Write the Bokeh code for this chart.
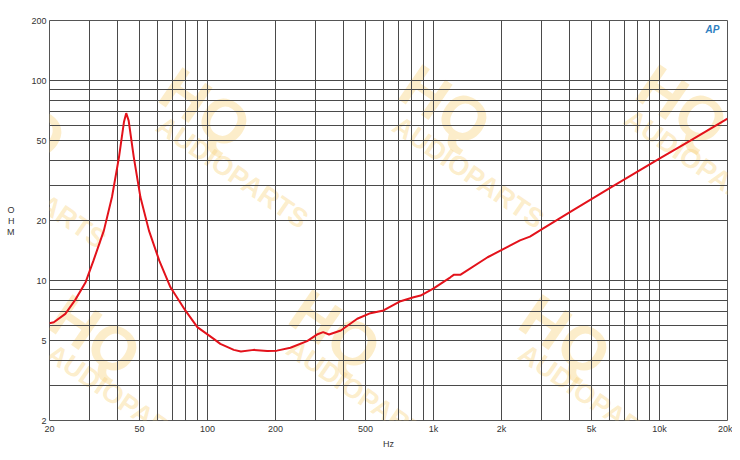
from bokeh.plotting import figure
from bokeh.models import FixedTicker, Label
from bokeh.embed import file_html
from bokeh.resources import INLINE

# ---- data ----
freq_hz = [20, 20.9, 23.5, 26.0, 28.9, 31.3, 34.8, 37.8, 40.6, 42.7, 43.7, 44.8,
           47.2, 50.5, 55.1, 61.2, 68.6, 79.8, 90.2, 106.6, 114, 130.8, 140.6,
           160.3, 183.7, 203, 232.8, 276, 305, 325, 345, 389, 460, 526, 601, 715,
           817, 877, 1002, 1188, 1229, 1314, 1736, 2415, 2672, 3048, 4117, 6048,
           9946, 13700, 20000]
impedance_ohm = [6.13, 6.2, 6.83, 8.02, 9.83, 12.6, 17.8, 26.2, 41.5, 62.1, 68.8, 63.2,
                 41.5, 26.2, 17.8, 12.6, 9.27, 7.1, 5.86, 5.12, 4.83, 4.51, 4.43,
                 4.51, 4.45, 4.47, 4.62, 4.99, 5.38, 5.53, 5.38, 5.64, 6.45, 6.88, 7.1, 7.9,
                 8.27, 8.43, 9.15, 10.4, 10.7, 10.7, 13.1, 15.9, 16.6, 18.2, 22.4, 29.1,
                 40.7, 50.2, 64.7]

x_major = [20, 50, 100, 200, 500, 1000, 2000, 5000, 10000, 20000]
x_major_labels = ["20", "50", "100", "200", "500", "1k", "2k", "5k", "10k", "20k"]
y_major = [2, 5, 10, 20, 50, 100, 200]
y_major_labels = ["2", "5", "10", "20", "50", "100", "200"]
x_grid = [20, 30, 40, 50, 60, 70, 80, 90, 100, 200, 300, 400, 500, 600, 700, 800, 900,
          1000, 2000, 3000, 4000, 5000, 6000, 7000, 8000, 9000, 10000, 20000]
y_grid = [2, 3, 4, 5, 6, 7, 8, 9, 10, 20, 30, 40, 50, 60, 70, 80, 90, 100, 200]

FONT = "Liberation Sans"
LEFT, TOP = 49, 20

p = figure(width=732, height=452, x_axis_type="log", y_axis_type="log",
           x_range=(20, 20000), y_range=(2, 200),
           output_backend="svg", toolbar_location=None,
           min_border_left=LEFT, min_border_right=5, min_border_top=TOP,
           min_border_bottom=32, background_fill_color="white",
           border_fill_color="white")

p.outline_line_color = "#555555"
p.outline_line_width = 1

# watermarks (drawn beneath the grid)
wm_color = "#f7d27a"
wm_hq = [(20, 120), (205, 108), (445, 105), (682, 105), (95, 335), (335, 330), (565, 335)]
wm_txt = [(30, 192), (232, 172), (468, 172), (700, 165), (122, 400), (362, 395), (594, 400)]
for (X, Y) in wm_hq:
    p.add_layout(Label(x=X - 49, y=420 - Y, x_units="screen", y_units="screen",
                       text="HQ", text_font=FONT, text_font_style="bold",
                       text_font_size="62px", text_color=wm_color, text_alpha=0.4,
                       text_align="center", text_baseline="middle", angle=-0.6,
                       level="image"))
for (X, Y) in wm_txt:
    p.add_layout(Label(x=X - 49, y=420 - Y, x_units="screen", y_units="screen",
                       text="AUDIOPARTS", text_font=FONT, text_font_style="bold",
                       text_font_size="27px", text_color=wm_color, text_alpha=0.4,
                       text_align="center", text_baseline="middle", angle=-0.6,
                       level="image"))

# grid
p.xgrid.ticker = FixedTicker(ticks=x_grid)
p.ygrid.ticker = FixedTicker(ticks=y_grid)
for g in (p.xgrid, p.ygrid):
    g.grid_line_color = "#4a4a4a"
    g.grid_line_alpha = 1.0
    g.grid_line_width = 1

# axes
p.xaxis.ticker = FixedTicker(ticks=x_major)
p.xaxis.major_label_overrides = dict(zip(x_major, x_major_labels))
p.yaxis.ticker = FixedTicker(ticks=y_major)
p.yaxis.major_label_overrides = dict(zip(y_major, y_major_labels))
for ax in (p.xaxis, p.yaxis):
    ax.axis_line_color = None
    ax.major_tick_line_color = None
    ax.minor_tick_line_color = None
    ax.major_tick_out = 0
    ax.major_tick_in = 0
    ax.major_label_text_font = FONT
    ax.major_label_text_font_size = "9px"
    ax.major_label_text_color = "#333333"
    ax.major_label_standoff = 3
    ax.axis_label_text_font = FONT
    ax.axis_label_text_font_size = "9px"
    ax.axis_label_text_font_style = "normal"
    ax.axis_label_text_color = "#333333"
p.xaxis.axis_label = "Hz"
p.xaxis.axis_label_standoff = 2
p.yaxis.axis_label = "O\nH\nM"
p.yaxis.axis_label_orientation = "horizontal"
p.yaxis.axis_label_standoff = 14
p.yaxis.axis_label_text_line_height = 1.1

# AP logo
p.add_layout(Label(x=712 - 49, y=420 - 29, x_units="screen", y_units="screen",
                   text="AP", text_font=FONT, text_font_style="bold italic",
                   text_font_size="10px", text_color="#2f7fc1",
                   text_align="center", text_baseline="middle"))

# curve
p.line(freq_hz, impedance_ohm, line_color="#e3121b", line_width=2)

open("out.html", "w").write(file_html(p, INLINE))
